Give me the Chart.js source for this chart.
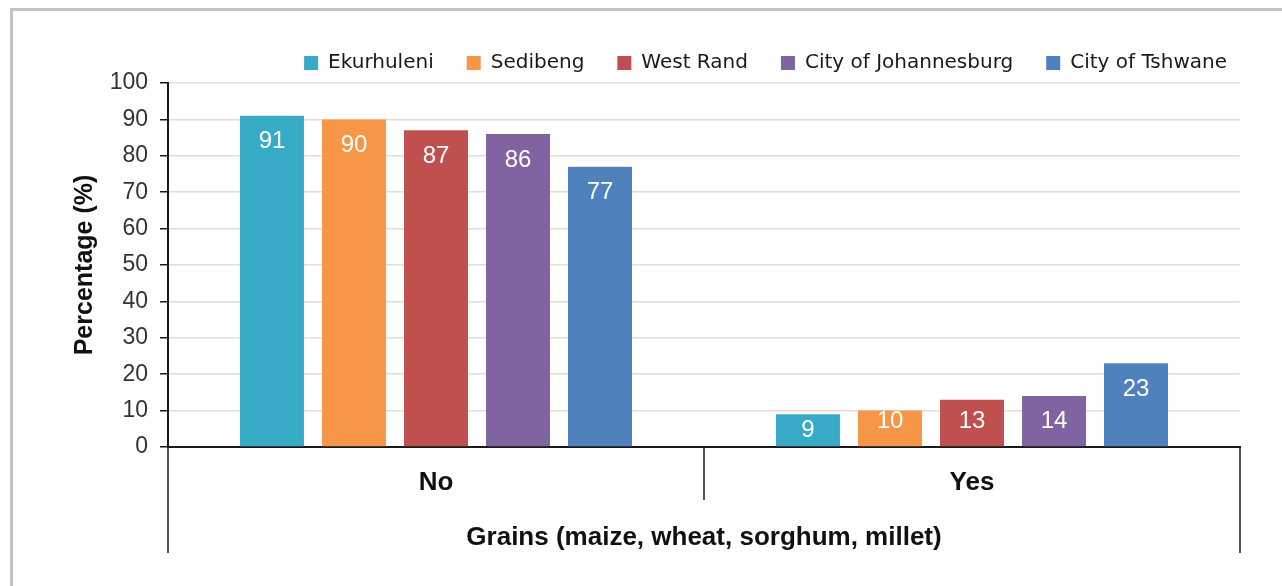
<!DOCTYPE html>
<html>
<head>
<meta charset="utf-8">
<script src="https://cdn.jsdelivr.net/npm/chart.js@4.4.1/dist/chart.umd.min.js"></script>
<style>
  html, body { margin: 0; padding: 0; background: #fff; }
  #wrap { position: relative; width: 1282px; height: 586px; overflow: hidden; }
  #frame { position: absolute; left: 10px; top: 8px; width: 1400px; height: 700px;
           border-top: 3px solid #c3c3c3; border-left: 3px solid #c3c3c3; }
  #chart { position: absolute; left: 0; top: 0; }
</style>
</head>
<body>
<div id="wrap">
  <div id="frame"></div>
  <canvas id="chart" width="1282" height="586"></canvas>
</div>
<script>
// categories on the x axis
const categories = ['No', 'Yes'];
const districts = ['Ekurhuleni', 'Sedibeng', 'West Rand', 'City of Johannesburg', 'City of Tshwane'];
const colors = ['#37aac5', '#f79646', '#c0504d', '#8064a2', '#4f81bd'];

// percentages, [No, Yes]
const ekurhuleni = [91, 9];
const sedibeng = [90, 10];
const westRand = [87, 13];
const johannesburg = [86, 14];
const tshwane = [77, 23];
const seriesValues = [ekurhuleni, sedibeng, westRand, johannesburg, tshwane];

const yTicks = [0, 10, 20, 30, 40, 50, 60, 70, 80, 90, 100];

const SANS = '"Liberation Sans", Arial, sans-serif';

// white value labels inside the top of each bar
const barLabels = {
  id: 'barLabels',
  afterDatasetsDraw(chart) {
    const ctx = chart.ctx;
    ctx.save();
    ctx.font = '24px ' + SANS;
    ctx.fillStyle = '#ffffff';
    ctx.textAlign = 'center';
    ctx.textBaseline = 'middle';
    chart.data.datasets.forEach((ds, i) => {
      chart.getDatasetMeta(i).data.forEach((bar, j) => {
        const top = bar.y, base = bar.base;
        let y = top + 26;
        if (y > base - 25) y = base - 25;
        if (base - top < 34) y = (top + base) / 2;
        ctx.fillText(ds.data[j], bar.x, y);
      });
    });
    ctx.restore();
  }
};

// category separators below the x axis (Excel style)
const separators = {
  id: 'separators',
  afterDraw(chart) {
    const x = chart.scales.x, area = chart.chartArea, ctx = chart.ctx;
    const mid = (x.getPixelForValue(0) + x.getPixelForValue(1)) / 2;
    ctx.save();
    ctx.strokeStyle = '#1a1a1a';
    ctx.lineWidth = 1.5;
    ctx.beginPath();
    [[x.left, 106], [mid, 53], [x.right, 106]].forEach(([px, len]) => {
      ctx.moveTo(px, area.bottom);
      ctx.lineTo(px, area.bottom + len);
    });
    ctx.stroke();
    ctx.restore();
  }
};

const datasets = districts.map((name, i) => ({
  label: name,
  data: seriesValues[i],
  backgroundColor: colors[i],
  borderWidth: 0,
  categoryPercentage: 0.765,
  barPercentage: 0.78
}));

new Chart(document.getElementById('chart'), {
  type: 'bar',
  data: { labels: categories, datasets },
  plugins: [barLabels, separators],
  options: {
    responsive: false,
    devicePixelRatio: 1,
    animation: false,
    layout: { padding: { top: 20, right: 22, bottom: 0, left: 0 } },
    plugins: {
      tooltip: { enabled: false },
      legend: {
        position: 'top',
        align: 'end',
        labels: {
          boxWidth: 14,
          boxHeight: 14,
          padding: 33,
          color: '#1a1a1a',
          font: { family: '"DejaVu Sans", sans-serif', size: 20 }
        }
      }
    },
    scales: {
      x: {
        grid: { display: true, drawOnChartArea: false, drawTicks: false },
        border: { color: '#1a1a1a', width: 2 },
        ticks: { color: '#111', padding: 20, font: { family: SANS, size: 26, weight: 'bold' } },
        title: {
          display: true,
          text: 'Grains (maize, wheat, sorghum, millet)',
          color: '#111',
          font: { family: SANS, size: 26, weight: 'bold' },
          padding: { top: 0, bottom: 33 }
        },
        afterFit(s) { s.height = 139; }
      },
      y: {
        min: 0,
        max: 100,
        afterBuildTicks(s) { s.ticks = yTicks.map(v => ({ value: v })); },
        grid: {
          color: c => c.tick && c.tick.value === 0 ? 'rgba(0,0,0,0)' : '#e4dcdc',
          tickColor: '#1a1a1a',
          tickLength: 8,
          lineWidth: 1.5
        },
        border: { color: '#1a1a1a', width: 2 },
        ticks: { color: '#333', padding: 12, font: { family: SANS, size: 23 } },
        title: {
          display: true,
          text: 'Percentage (%)',
          color: '#111',
          font: { family: SANS, size: 25, weight: 'bold' },
          padding: { top: 70, bottom: 0 }
        },
        afterFit(s) { s.width = 168; }
      },
      spacer: {
        type: 'linear',
        position: 'right',
        display: true,
        grid: { display: false },
        ticks: { display: false },
        border: { display: false },
        afterFit(s) { s.width = 20; }
      }
    }
  }
});
</script>
</body>
</html>
